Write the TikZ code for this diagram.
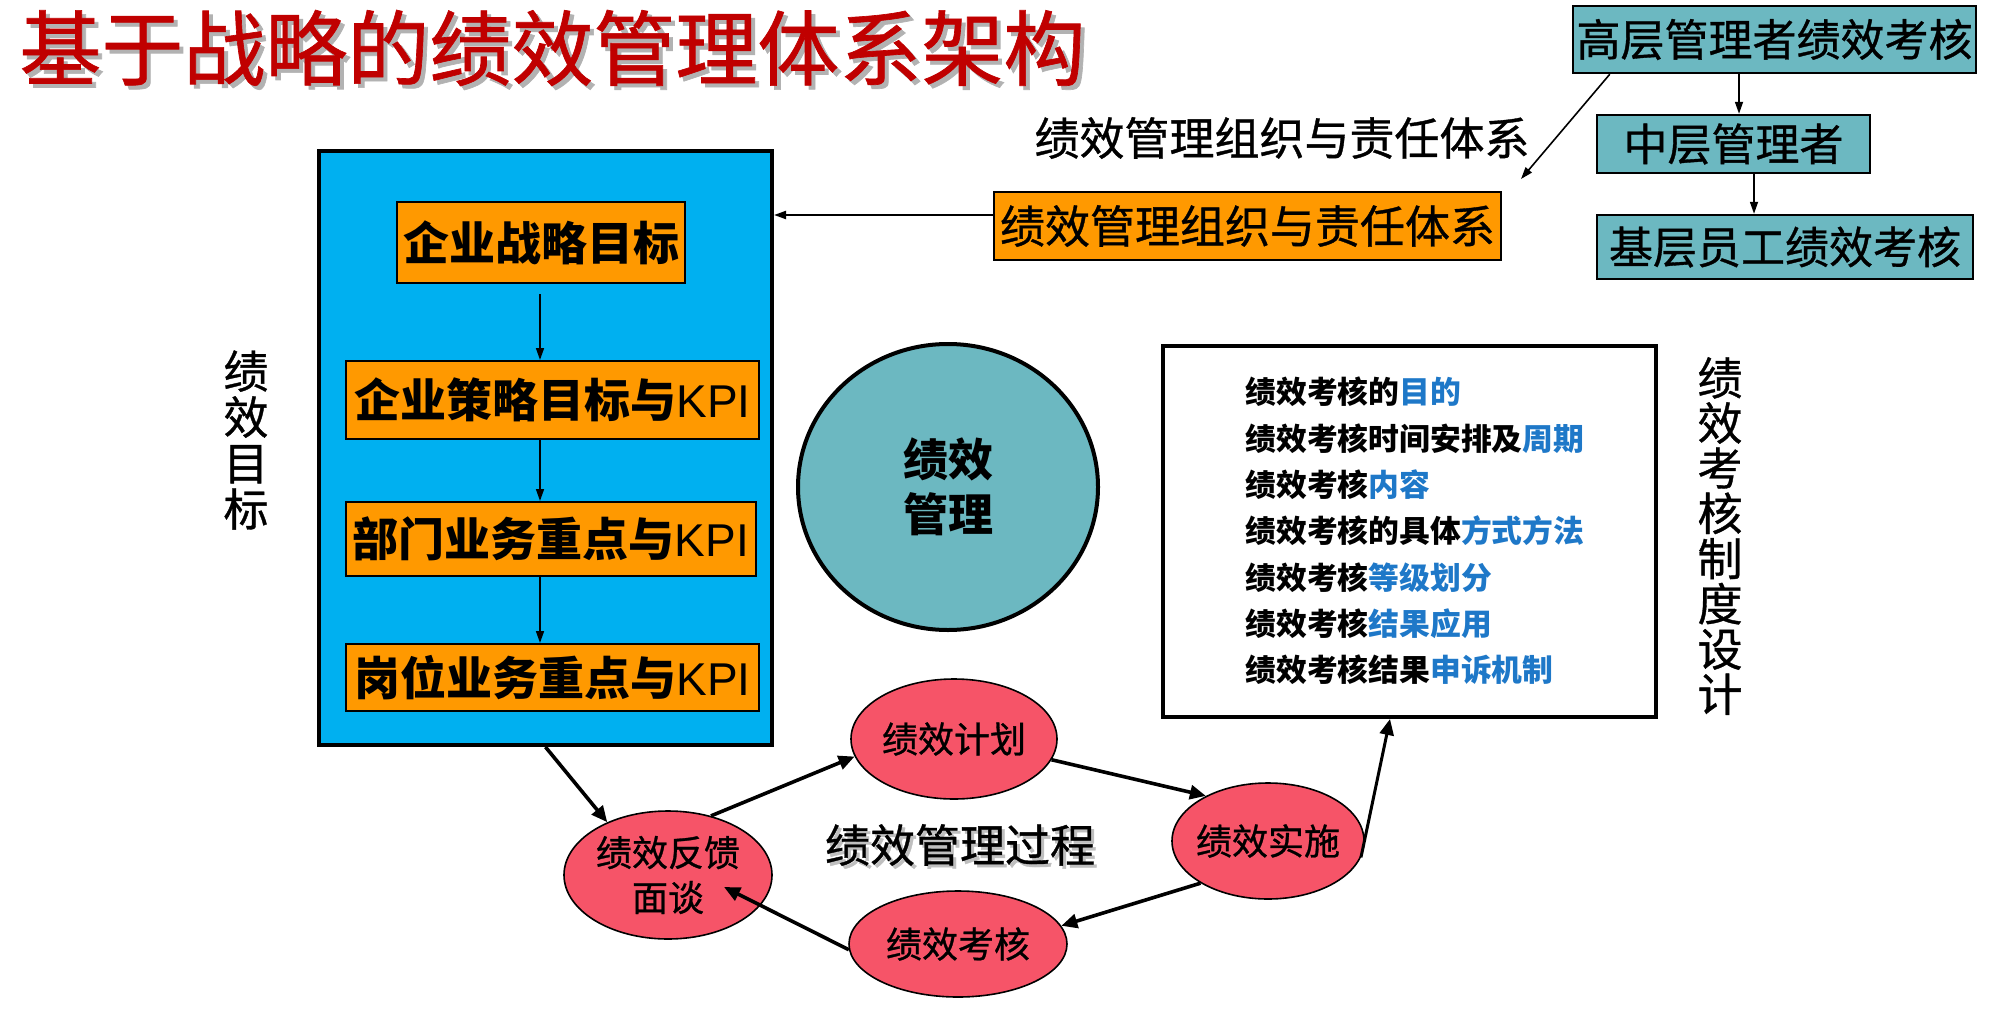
\documentclass[tikz,border=0pt]{standalone}
\usepackage{fontspec}
\setmainfont{Noto Sans CJK SC}
\newfontfamily\medcjk{Noto Sans CJK SC}[FakeBold=0.8]
\newfontfamily\arialfont{Liberation Sans}
\usetikzlibrary{arrows.meta,calc,shapes.geometric}
\definecolor{orng}{RGB}{255,153,0}
\definecolor{bluebox}{RGB}{0,176,240}
\definecolor{teal2}{RGB}{108,184,193}
\definecolor{redell}{RGB}{246,84,104}
\definecolor{titlered}{RGB}{192,0,0}
\definecolor{listblue}{RGB}{30,120,200}
\newcommand{\myfs}[2]{\fontsize{#1}{#2}\selectfont}
\newcommand{\kpi}{{\arialfont\mdseries KPI}}
\begin{document}
\begin{tikzpicture}[x=0.5pt,y=-0.5pt,
  obox/.style={draw=black, line width=1pt, fill=orng, inner sep=0pt, font=\myfs{23pt}{27pt}\bfseries},
  tbox/.style={draw=black, line width=1.2pt, fill=teal2, inner sep=0pt, font=\myfs{22pt}{26pt}\medcjk},
  rell/.style={ellipse, draw=black, line width=0.8pt, fill=redell, inner xsep=-6pt, inner ysep=0pt, font=\myfs{18pt}{22.5pt}\medcjk, align=center},
  thinarr/.style={-{Triangle[length=6pt,width=4pt]}, line width=0.8pt},
  thickarr/.style={-{Triangle[length=8pt,width=7pt]}, line width=1.8pt},
  vtext/.style={align=center, inner sep=0pt, font=\myfs{22.5pt}{23pt}\medcjk}
]
\useasboundingbox (0,0) rectangle (2008,1012);

% title
\node[anchor=west, inner sep=0pt, text=black!30, font=\myfs{41pt}{41pt}\medcjk] (titleshadow) at (23,52) {基于战略的绩效管理体系架构};
\node[anchor=west, inner sep=0pt, text=titlered, font=\myfs{41pt}{41pt}\medcjk] (title) at (19,48) {基于战略的绩效管理体系架构};

% top right hierarchy
\node[tbox, minimum width=201.5pt, minimum height=33.5pt] (gao) at (1774.5,39.5) {高层管理者绩效考核};
\node[tbox, minimum width=136.5pt, minimum height=29pt] (zhong) at (1733.5,144) {中层管理者};
\node[tbox, minimum width=188pt, minimum height=32pt] (ji) at (1785,247) {基层员工绩效考核};
\coordinate (c1) at (1739,0);
\coordinate (c2) at (1754,0);
\draw[thinarr] (gao.south -| c1) -- (zhong.north -| c1);
\draw[thinarr] (zhong.south -| c2) -- (ji.north -| c2);
\coordinate (diagend) at (1521,179);
\draw[thinarr] ($(gao.south west)+(38,0)$) -- (diagend);

\node[inner sep=0pt, font=\myfs{22.5pt}{23pt}\medcjk] (orglabel) at (1282,138) {绩效管理组织与责任体系};
\node[obox, font=\myfs{22.5pt}{26pt}\medcjk, minimum width=253.5pt, minimum height=34pt] (org) at (1247.5,226) {绩效管理组织与责任体系};

% blue goal box
\node[draw=black, line width=2pt, fill=bluebox, minimum width=226.5pt, minimum height=297pt, inner sep=0pt] (blue) at (545.5,448) {};
\node[obox, minimum width=144pt, minimum height=40.5pt] (g1) at (541,242.5) {企业战略目标};
\node[obox, minimum width=206.5pt, minimum height=39pt] (g2) at (552.5,400) {企业策略目标与\kpi};
\node[obox, minimum width=205pt, minimum height=37pt] (g3) at (551,539) {部门业务重点与\kpi};
\node[obox, minimum width=206.5pt, minimum height=33.5pt] (g4) at (552.5,677.5) {岗位业务重点与\kpi};
\coordinate (cx) at (540,0);
\draw[thinarr, shorten <=5pt] (g1.south -| cx) -- (g2.north -| cx);
\draw[thinarr] (g2.south -| cx) -- (g3.north -| cx);
\draw[thinarr] (g3.south -| cx) -- (g4.north -| cx);

\coordinate (oy) at (0,215);
\draw[thinarr, line width=1pt] (org.west |- oy) -- (blue.east |- oy);

\node[vtext] (goallabel) at (246,440) {绩\\效\\目\\标};

% central circle
\node[ellipse, draw=black, line width=2pt, fill=teal2, minimum width=150pt, minimum height=143pt, align=center, font=\myfs{22.5pt}{27.5pt}\bfseries] (mgmt) at (948,487) {绩效\\管理};

% white box
\node[draw=black, line width=2pt, fill=white, minimum width=246.5pt, minimum height=185.5pt, inner sep=0pt] (wbox) at (1409.5,531.5) {};
\node[anchor=west, align=left, inner sep=0pt, font=\myfs{15.4pt}{23.15pt}\bfseries] (list) at (1245,531) {%
绩效考核的\textcolor{listblue}{目的}\\
绩效考核时间安排及\textcolor{listblue}{周期}\\
绩效考核\textcolor{listblue}{内容}\\
绩效考核的具体\textcolor{listblue}{方式方法}\\
绩效考核\textcolor{listblue}{等级划分}\\
绩效考核\textcolor{listblue}{结果应用}\\
绩效考核结果\textcolor{listblue}{申诉机制}};
\node[vtext, font=\myfs{22.5pt}{22.6pt}\medcjk] (syslabel) at (1720,536) {绩\\效\\考\\核\\制\\度\\设\\计};

% process cycle
\node[rell, minimum width=103pt, minimum height=60pt] (plan) at (954,739) {绩效计划};
\node[rell, minimum width=96pt, minimum height=58pt] (impl) at (1268,841) {绩效实施};
\node[rell, minimum width=109pt, minimum height=53pt] (eval) at (958,944) {绩效考核};
\node[rell, minimum width=104pt, minimum height=64pt] (fb) at (668,875) {绩效反馈\\面谈};
\node[inner sep=0pt, text=black!25, font=\myfs{22.5pt}{23pt}\medcjk] (procshadow) at (963,848) {绩效管理过程};
\node[inner sep=0pt, font=\myfs{22.5pt}{23pt}\medcjk] (proc) at (960,845) {绩效管理过程};

\draw[thickarr] (blue.south) -- (fb.139);
\draw[thickarr] (fb.54) -- (plan.190);
\draw[thickarr] (plan.-12) -- (impl.144);
\draw[thickarr] (impl.212) -- (eval.10);
\draw[thickarr] (eval.183) -- ($(fb.center)+(56,12)$);
\coordinate (c3) at (1390,0);
\draw[thickarr, line width=1.5pt] (impl.-10) -- (wbox.south -| c3);
\end{tikzpicture}
\end{document}
